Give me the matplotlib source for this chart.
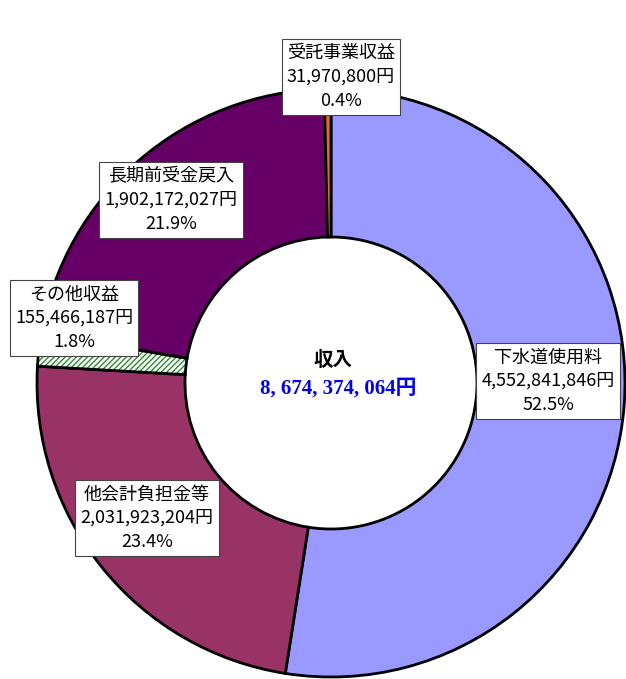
import matplotlib.pyplot as plt
from matplotlib.patches import Wedge

plt.rcParams['font.family'] = ['Noto Sans CJK JP', 'DejaVu Sans']

categories = ['下水道使用料', '他会計負担金等', 'その他収益', '長期前受金戻入', '受託事業収益']
amounts = [4552841846, 2031923204, 155466187, 1902172027, 31970800]
shares = ['52.5%', '23.4%', '1.8%', '21.9%', '0.4%']
colors = ['#9999FF', '#993366', 'white', '#660066', '#E07020']
total_label = '8, 674, 374, 064円'

# label box centres in pixel coordinates (y from top)
label_pos = [(548, 381), (147, 518), (74, 318), (171, 200), (341, 77)]

W, H = 626, 679
fig = plt.figure(figsize=(W / 100, H / 100), dpi=100)
ax = fig.add_axes([0, 0, 1, 1])

cx, cy, r_out, r_in = 331, H - 383, 294, 146
wedges, _ = ax.pie(amounts, colors=colors, startangle=90, counterclock=False,
                   center=(cx, cy), radius=r_out,
                   wedgeprops=dict(width=r_out - r_in, edgecolor='black', linewidth=2))

# hatched slice: green hatch with a black outline on top
hw = wedges[2]
hw.set_edgecolor('#2E8B2E')
hw.set_hatch('//////')
hw.set_linewidth(0)
ax.add_patch(Wedge(hw.center, hw.r, hw.theta1, hw.theta2, width=hw.width,
                   fill=False, edgecolor='black', linewidth=2, zorder=hw.get_zorder() + 0.1))

ax.set_xlim(0, W)
ax.set_ylim(0, H)
ax.axis('off')

for name, amt, pct, (px, py) in zip(categories, amounts, shares, label_pos):
    ax.text(px, H - py, f'{name}\n{amt:,}円\n{pct}', ha='center', va='center',
            fontsize=13, linespacing=1.4, zorder=10,
            bbox=dict(facecolor='white', edgecolor='#444444', linewidth=0.8, boxstyle='square,pad=0.3'))

ax.text(333, H - 360, '収入', ha='center', va='center', fontsize=14, fontweight='bold', zorder=10)
ax.text(338, H - 389, total_label, ha='center', va='center', fontsize=15, fontweight='bold',
        color='#0000EE', family=['Liberation Serif', 'Noto Sans CJK JP'], zorder=10)

fig.savefig('out.png', dpi=100)
